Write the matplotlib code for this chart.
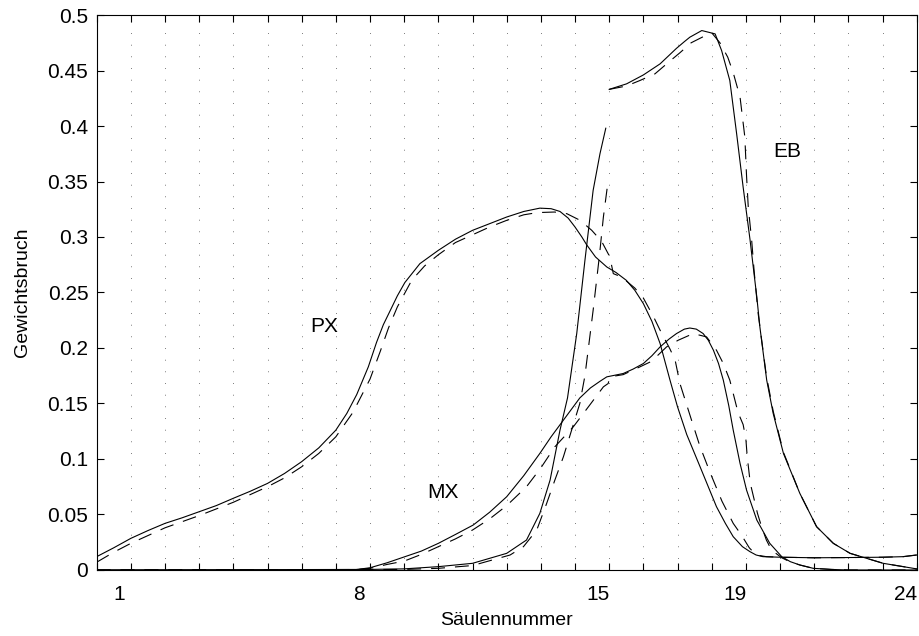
import numpy as np
import matplotlib.pyplot as plt
from matplotlib.ticker import FixedLocator, FixedFormatter, FormatStrFormatter

plt.rcParams['font.family'] = ['Liberation Sans', 'DejaVu Sans']

# column positions shown on the axis
col_labels = [1, 8, 15, 19, 24]

# PX, solid and dashed
px_x = [0, 0.5, 1, 1.5, 2, 2.5, 3, 3.5, 4, 4.5, 5, 5.5, 6, 6.5, 7, 7.32, 7.61,
        7.95, 8.19, 8.39, 8.58, 8.8, 9.02, 9.46, 10, 10.5, 11, 11.5, 12, 12.5,
        12.97, 13.3, 13.56, 13.8, 14, 14.2, 14.34, 14.6, 14.93, 15.2, 15.5,
        15.75, 16, 16.25, 16.49, 16.78, 17.0, 17.27, 17.66, 17.9, 18.14, 18.4,
        18.63, 18.9, 19.12, 19.3, 19.5, 20, 21, 22, 23, 23.6, 24]
px_y = [0.012, 0.02, 0.0285, 0.0355, 0.042, 0.047, 0.0525, 0.058, 0.0646,
        0.071, 0.078, 0.087, 0.0976, 0.11, 0.126, 0.141, 0.158, 0.183, 0.205,
        0.221, 0.233, 0.247, 0.259, 0.276, 0.288, 0.298, 0.306, 0.312, 0.318,
        0.323, 0.326, 0.3255, 0.323, 0.317, 0.309, 0.30, 0.293, 0.282, 0.273,
        0.268, 0.261, 0.252, 0.240, 0.224, 0.204, 0.171, 0.147, 0.122, 0.093,
        0.075, 0.057, 0.042, 0.030, 0.021, 0.0165, 0.0135, 0.012, 0.0115,
        0.011, 0.0112, 0.0115, 0.012, 0.0135]
px_x2 = [0, 0.5, 1, 1.5, 2, 2.5, 3, 3.5, 4, 4.5, 5, 5.5, 6, 6.5, 7, 7.5, 8, 8.3,
         8.54, 8.8, 9.22, 9.6, 10, 10.5, 11, 11.5, 12, 12.5, 12.9, 13.4, 13.76,
         14.15, 14.49, 14.78, 15.02, 15.12, 15.36, 15.75, 16.0, 16.3, 16.49,
         16.78, 16.93, 17.07, 17.41, 17.65, 17.95, 18.3, 18.63, 18.88, 19.1,
         19.3, 19.6, 20, 21, 22, 23, 23.6, 24]
px_y2 = [0.007, 0.016, 0.024, 0.031, 0.038, 0.0435, 0.049, 0.055, 0.061, 0.068,
         0.075, 0.083, 0.093, 0.105, 0.12, 0.142, 0.172, 0.197, 0.218, 0.237,
         0.261, 0.274, 0.284, 0.295, 0.302, 0.309, 0.315, 0.32, 0.322, 0.3225,
         0.321, 0.315, 0.306, 0.296, 0.282, 0.267, 0.264, 0.254, 0.245, 0.228,
         0.216, 0.199, 0.189, 0.168, 0.135, 0.112, 0.088, 0.062, 0.042, 0.031,
         0.02, 0.0135, 0.012, 0.0115, 0.011, 0.0112, 0.0115, 0.012, 0.0135]

# MX
mx_x = [0, 7.5, 8, 8.5, 8.88, 9.5, 10, 10.5, 11.02, 11.5, 12, 12.5, 12.97, 13.3,
        13.66, 14.14, 14.45, 14.73, 14.93, 15.41, 15.7, 16, 16.25, 16.49, 16.75,
        16.97, 17.2, 17.36, 17.55, 17.75, 17.9, 18.05, 18.2, 18.34, 18.5, 18.63,
        18.83, 19.02, 19.32, 19.7, 20.05, 20.3, 20.58, 20.97, 21.5, 22, 24]
mx_y = [0, 0, 0.002, 0.0065, 0.0105, 0.017, 0.024, 0.032, 0.0405, 0.052, 0.066,
        0.085, 0.105, 0.12, 0.135, 0.155, 0.164, 0.170, 0.174, 0.177, 0.181,
        0.186, 0.193, 0.201, 0.208, 0.213, 0.217, 0.218, 0.217, 0.213, 0.207,
        0.198, 0.186, 0.171, 0.148, 0.126, 0.096, 0.072, 0.045, 0.024, 0.012,
        0.0075, 0.0045, 0.0015, 0.0005, 0, 0]
mx_x2 = [0, 7.5, 8, 8.5, 9, 9.5, 10, 10.5, 11, 11.5, 12, 12.58, 13, 13.41,
         13.95, 14.44, 14.83, 14.97, 15.02, 15.41, 15.9, 16.24, 16.68, 17.02,
         17.46, 17.85, 18.14, 18.34, 18.53, 18.63, 18.77, 18.92, 19.0, 19.04,
         19.13, 19.34, 19.45, 19.6, 19.75, 20.05, 20.3, 20.58, 20.97, 21.5, 22,
         24]
mx_y2 = [0, 0, 0.0015, 0.005, 0.008, 0.014, 0.021, 0.028, 0.036, 0.046, 0.058,
         0.075, 0.092, 0.111, 0.129, 0.149, 0.165, 0.168, 0.174, 0.176, 0.183,
         0.188, 0.201, 0.207, 0.213, 0.210, 0.198, 0.186, 0.171, 0.159, 0.142,
         0.131, 0.118, 0.102, 0.078, 0.051, 0.04, 0.027, 0.018, 0.011, 0.0072,
         0.0045, 0.0015, 0.0005, 0, 0]

# EB, split at the feed column (nan breaks the line)
eb_x = [0, 8, 9, 10, 11, 12, 12.58, 12.97, 13.27, 13.56, 13.78, 14.05, 14.29,
        14.53, 14.73, 14.9, np.nan,
        15.0, 15.51, 16, 16.49, 16.97, 17.2, 17.36, 17.71, 18.1, 18.29, 18.53,
        18.73, 18.92, 19.12, 19.32, 19.41, 19.61, 19.8, 20.1, 20.58, 21.07,
        21.56, 22.05, 23.02, 23.9, 24]
eb_y = [0, 0.0005, 0.001, 0.003, 0.006, 0.015, 0.027, 0.051, 0.081, 0.126,
        0.155, 0.213, 0.279, 0.342, 0.375, 0.398, np.nan,
        0.433, 0.438, 0.446, 0.456, 0.47, 0.476, 0.48, 0.486, 0.483, 0.468,
        0.441, 0.393, 0.345, 0.298, 0.246, 0.219, 0.171, 0.141, 0.105, 0.069,
        0.039, 0.024, 0.015, 0.006, 0.0015, 0.001]
eb_x2 = [0, 9, 10, 11, 12.1, 12.49, 12.88, 13.17, 13.41, 13.66, 13.9, 14.14,
         14.29, 14.53, 14.71, 14.83, 14.97, np.nan,
         15.0, 15.5, 15.9, 16.34, 16.72, 17.07, 17.4, 17.85, 18.0, 18.24,
         18.47, 18.63, 18.83, 18.97, 19.02, 19.07, 19.17, 19.24, 19.36, 19.6,
         19.8, 20.1, 20.58, 21.07, 21.56, 22.05, 23.02, 23.9, 24]
eb_y2 = [0, 0.0005, 0.0015, 0.004, 0.0135, 0.021, 0.036, 0.06, 0.081, 0.102,
         0.126, 0.15, 0.175, 0.234, 0.282, 0.318, 0.351, np.nan,
         0.433, 0.436, 0.441, 0.447, 0.457, 0.466, 0.475, 0.482, 0.484, 0.475,
         0.462, 0.448, 0.426, 0.39, 0.355, 0.327, 0.297, 0.27, 0.231, 0.175,
         0.143, 0.106, 0.069, 0.039, 0.024, 0.015, 0.006, 0.0015, 0.001]

fig = plt.figure(figsize=(9.19, 6.36), dpi=100)
ax = fig.add_axes([0.1052, 0.1038, 0.8923, 0.8726])

lw = 0.8
dash = (0, (12.5, 9))
for xs, ys in [(px_x, px_y), (mx_x, mx_y), (eb_x, eb_y)]:
    ax.plot(xs, ys, color='k', lw=lw)
for xs, ys in [(px_x2, px_y2), (mx_x2, mx_y2), (eb_x2, eb_y2)]:
    ax.plot(xs, ys, color='k', lw=lw, linestyle=dash)

ax.text(6.66, 0.219, 'PX', fontsize=15, ha='center', va='center')
ax.text(10.13, 0.07, 'MX', fontsize=15, ha='center', va='center')
ax.text(20.22, 0.377, 'EB', fontsize=15, ha='center', va='center')

ax.set_xlim(0, 24)
ax.set_ylim(0, 0.5)

# unit grid ticks, labels sit inside the column cells
ax.xaxis.set_major_locator(FixedLocator(np.arange(0, 25)))
ax.xaxis.set_major_formatter(FixedFormatter([''] * 25))
ax.xaxis.set_minor_locator(FixedLocator([c - 0.33 for c in col_labels]))
ax.xaxis.set_minor_formatter(FixedFormatter([str(c) for c in col_labels]))
ax.set_yticks(np.arange(0, 0.501, 0.05))
ax.yaxis.set_major_formatter(FormatStrFormatter('%g'))

ax.tick_params(which='major', direction='in', length=5, width=0.8,
               top=True, right=True, labelsize=15, pad=6)
ax.tick_params(axis='x', which='minor', length=0, labelsize=15, pad=10.5)
ax.tick_params(axis='y', which='minor', length=0)

ax.grid(axis='x', which='major', color='k', lw=0.5, linestyle=(0, (1, 15.8)))

for s in ax.spines.values():
    s.set_linewidth(0.8)

ax.set_xlabel('Säulennummer', fontsize=14, labelpad=6)
ax.set_ylabel('Gewichtsbruch', fontsize=14, labelpad=12)

fig.savefig('out.png', dpi=100)
